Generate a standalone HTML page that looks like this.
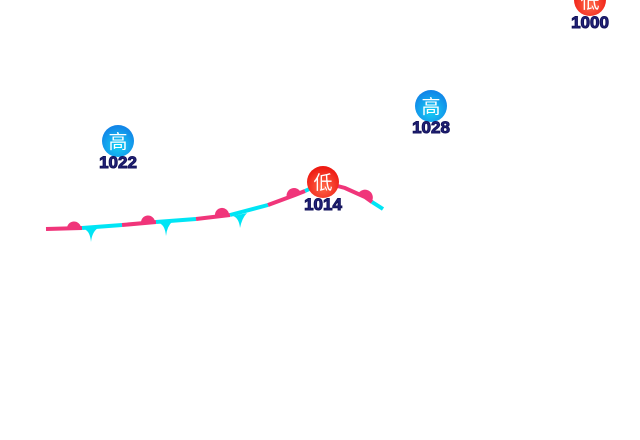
<!DOCTYPE html>
<html><head><meta charset="utf-8"><style>
html,body{margin:0;padding:0;background:#fff;}
svg{display:block}
.lbl{font-family:"Liberation Sans",sans-serif;font-weight:bold;font-size:17px;fill:#23237a;stroke:#12125a;stroke-width:1;text-anchor:middle;letter-spacing:0px}
.ch{font-family:"Liberation Sans","Noto Sans CJK SC",sans-serif;font-size:19px;fill:#fff;text-anchor:middle}
</style></head><body>
<svg width="640" height="440" viewBox="0 0 640 440">
<defs>
<radialGradient id="b" cx="50%" cy="65%" r="60%"><stop offset="0" stop-color="#15d2f5"/><stop offset="1" stop-color="#1286e8"/></radialGradient>
<radialGradient id="r" cx="50%" cy="65%" r="60%"><stop offset="0" stop-color="#ff6a4a"/><stop offset="1" stop-color="#ee1a12"/></radialGradient>
</defs>
<g stroke-width="4" fill="none" stroke-linecap="butt">
<polyline stroke="#f0357a" points="46,229 82,228"/>
<polyline stroke="#00e5f5" points="82,228 122,225"/>
<polyline stroke="#f0357a" points="122,225 156,222"/>
<polyline stroke="#00e5f5" points="156,222 196,219"/>
<polyline stroke="#f0357a" points="196,219 230,215"/>
<polyline stroke="#00e5f5" points="230,215 268,205"/>
<polyline stroke="#f0357a" points="268,205 295,195 305,191"/>
<polyline stroke="#00e5f5" points="305,191 320,184"/>
<polyline stroke="#f0357a" points="330,184 345,188 365,197 372,202"/>
<polyline stroke="#00e5f5" points="372,202 383,209"/>
</g>
<g fill="#f0357a">
<path d="M67,229 A7,7 0 0 1 81,228 Z"/>
<path d="M141,223 A7,7 0 0 1 155,222 Z"/>
<path d="M215,216 A7,7 0 0 1 229,214 Z"/>
<path d="M287,198 A7,7 0 0 1 301,193 Z"/>
<path d="M358,194 A7,7 0 0 1 372,201 Z"/>
</g>
<g fill="#00e5f5">
<path d="M84,229 Q90,231 91,242 Q92,232 98,228 Z"/>
<path d="M159,223 Q165,225 166,236 Q167,226 173,221 Z"/>
<path d="M233,216 Q239,218 240,228 Q242,218 247,213 Z"/>
</g>
<circle cx="118" cy="141" r="16" fill="url(#b)"/><text class="ch" x="118" y="148">高</text>
<text class="lbl" x="118" y="168">1022</text>
<circle cx="431" cy="106" r="16" fill="url(#b)"/><text class="ch" x="431" y="113">高</text>
<text class="lbl" x="431" y="133">1028</text>
<circle cx="323" cy="182" r="16" fill="url(#r)"/><text class="ch" x="323" y="189">低</text>
<text class="lbl" x="323" y="210">1014</text>
<circle cx="590" cy="0" r="16" fill="url(#r)"/><text class="ch" x="590" y="8">低</text>
<text class="lbl" x="590" y="28">1000</text>
</svg>
</body></html>
